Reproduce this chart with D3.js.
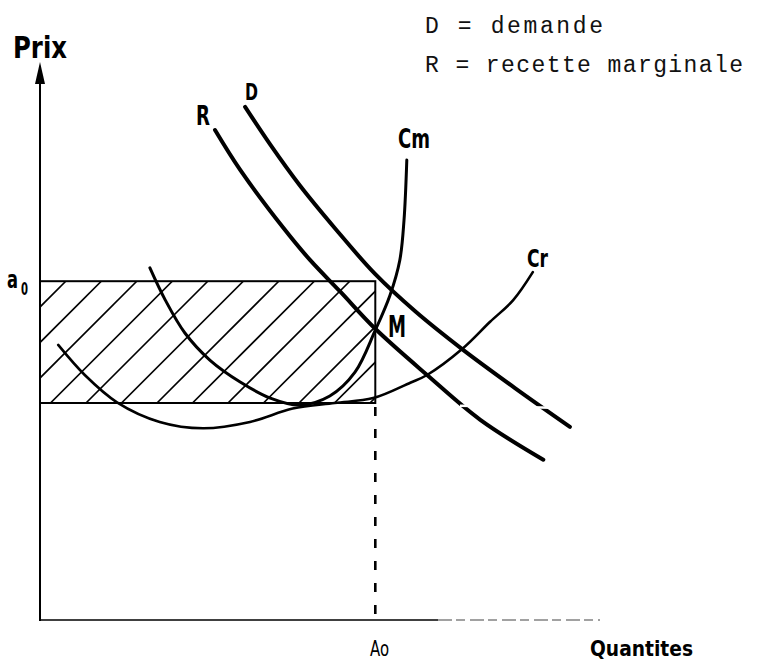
<!DOCTYPE html>
<html lang="fr">
<head>
<meta charset="UTF-8">
<title>Monopole - profit</title>
<script src="https://d3js.org/d3.v7.min.js"></script>
<style>
  body { margin: 0; background: #fff; }
  .lab { font-family: "Liberation Sans Narrow", "DejaVu Sans Condensed", "Roboto Condensed", sans-serif; font-weight: bold; fill: #000; }
  .leg { font-family: "Liberation Mono", "Courier New", "DejaVu Sans Mono", monospace; fill: #111; }
</style>
</head>
<body>
<svg width="763" height="662"></svg>
<script>
// curves, as [quantite, prix] pairs
var curveD = [[29.3,73.3],[32.9,67.9],[37.1,62.1],[42.1,56.0],[47.9,49.4],[53.6,44.1],[60.3,38.7],[67.9,33.1],[75.7,27.6]];
var curveR = [[25.0,70.0],[28.6,64.3],[34.7,56.1],[38.6,51.4],[42.9,46.9],[47.9,41.6],[55.3,35.0],[62.9,28.6],[71.9,22.9]];
var curveCm = [[15.7,50.3],[17.9,45.7],[20.7,41.0],[24.3,37.1],[28.6,34.0],[32.9,31.7],[37.1,30.7],[41.4,32.0],[45.0,35.4],[47.9,41.4],[50.0,46.4],[51.4,51.4],[52.0,57.1],[52.4,65.7]];
var curveCr = [[2.6,39.3],[6.4,35.0],[11.0,31.1],[17.1,28.3],[23.3,27.4],[30.0,28.3],[36.1,30.2],[42.1,31.0],[47.6,31.7],[52.9,33.9],[55.3,35.0],[60.3,38.7],[64.3,42.6],[67.6,45.7],[70.4,49.7]];

// equilibre
var A0 = 47.9;      // quantite
var a0 = 48.4;      // prix
var crA0 = 31.0;    // cout moyen en A0

var legendLines = ["D = demande", "R = recette marginale"];
var legendWidths = [178, 318];

var svg = d3.select("svg");

var x = d3.scaleLinear().domain([0, 100]).range([40, 740]);
var y = d3.scaleLinear().domain([0, 80]).range([620, 60]);

var line = d3.line()
    .x(function(d) { return x(d[0]); })
    .y(function(d) { return y(d[1]); })
    .curve(d3.curveCatmullRom.alpha(0.5));

// hatched rectangle (profit)
svg.append("clipPath").attr("id", "rclip")
   .append("rect")
   .attr("x", x(0)).attr("y", y(a0))
   .attr("width", x(A0) - x(0)).attr("height", y(crA0) - y(a0));

var hatch = svg.append("g").attr("clip-path", "url(#rclip)");
d3.range(347, 800, 35.5).forEach(function(c) {
    hatch.append("line")
        .attr("x1", c - 620).attr("y1", 620)
        .attr("x2", c - 60).attr("y2", 60)
        .attr("stroke", "#000").attr("stroke-width", 1.6);
});

svg.append("rect")
   .attr("x", x(0)).attr("y", y(a0))
   .attr("width", x(A0) - x(0)).attr("height", y(crA0) - y(a0))
   .attr("fill", "none").attr("stroke", "#000").attr("stroke-width", 2);

// dashed line down to A0
svg.append("line")
   .attr("x1", x(A0)).attr("x2", x(A0))
   .attr("y1", y(crA0) + 4).attr("y2", y(0))
   .attr("stroke", "#000").attr("stroke-width", 2.6)
   .attr("stroke-dasharray", "9,13");

// axes
svg.append("line")
   .attr("x1", x(0)).attr("x2", x(0))
   .attr("y1", y(0) + 1).attr("y2", 80)
   .attr("stroke", "#000").attr("stroke-width", 2);
svg.append("path")
   .attr("d", "M" + x(0) + ",62 L" + (x(0) - 5) + ",84 L" + (x(0) + 5) + ",84 Z")
   .attr("fill", "#000");

svg.append("line")
   .attr("x1", x(0)).attr("x2", 438)
   .attr("y1", y(0)).attr("y2", y(0))
   .attr("stroke", "#000").attr("stroke-width", 1.6);
svg.append("line")
   .attr("x1", 438).attr("x2", 600)
   .attr("y1", y(0)).attr("y2", y(0))
   .attr("stroke", "#444").attr("stroke-width", 1.2)
   .attr("stroke-dasharray", "14,4,9,5");

// curves
svg.append("path").attr("d", line(curveCr))
   .attr("fill", "none").attr("stroke", "#000").attr("stroke-width", 2.6).attr("stroke-linecap", "round");
svg.append("path").attr("d", line(curveCm))
   .attr("fill", "none").attr("stroke", "#000").attr("stroke-width", 3).attr("stroke-linecap", "round");
svg.append("path").attr("d", line(curveR))
   .attr("fill", "none").attr("stroke", "#000").attr("stroke-width", 4).attr("stroke-linecap", "round");
svg.append("path").attr("d", line(curveD))
   .attr("fill", "none").attr("stroke", "#000").attr("stroke-width", 4).attr("stroke-linecap", "round");

// scan gap across D and R
svg.append("path")
   .attr("d", "M460,404.5 L552,406.5 L552,409 L460,407 Z")
   .attr("fill", "#fff");

// labels
function lab(t, px, py, size, len) {
    var e = svg.append("text").attr("class", "lab")
        .attr("x", px).attr("y", py)
        .attr("font-size", size).text(t);
    if (len) e.attr("textLength", len).attr("lengthAdjust", "spacingAndGlyphs");
    return e;
}
lab("Prix", 13, 58, 30, 54);
lab("D", 245, 100, 23, 13);
lab("R", 196, 125, 26, 14);
lab("Cm", 398, 148, 26, 32);
lab("Cr", 527, 267, 25, 21);
lab("M", 388, 337, 31, 18);
lab("a", 7, 288, 24, 11);
lab("0", 21, 295, 17, 7);
lab("Quantites", 590, 656, 22, 103);
svg.append("text").attr("class", "lab").style("font-weight", "normal")
   .attr("x", 370).attr("y", 656).attr("font-size", 21)
   .attr("textLength", 19).attr("lengthAdjust", "spacingAndGlyphs")
   .text("Ao");

// legend
svg.selectAll(".leg").data(legendLines).enter().append("text")
   .attr("class", "leg")
   .attr("x", 425)
   .attr("y", function(d, i) { return 33 + i * 39; })
   .attr("font-size", 23)
   .attr("textLength", function(d, i) { return legendWidths[i]; })
   .text(function(d) { return d; });
</script>
</body>
</html>
